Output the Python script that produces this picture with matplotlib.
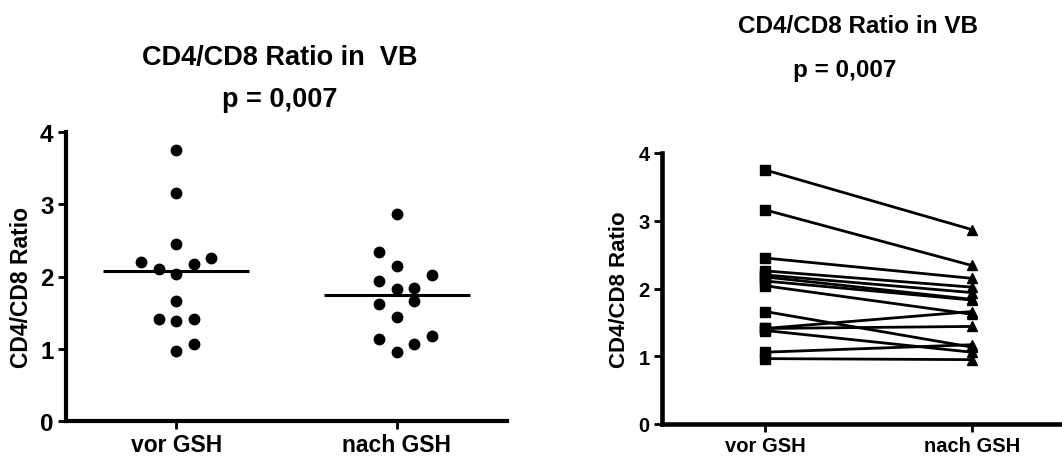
import numpy as np
import matplotlib.pyplot as plt

plt.rcParams['font.family'] = ['Liberation Sans', 'DejaVu Sans']
plt.rcParams['font.weight'] = 'bold'

groups = ['vor GSH', 'nach GSH']
title = 'CD4/CD8 Ratio in  VB'
title_right = 'CD4/CD8 Ratio in VB'
p_text = 'p = 0,007'
ylabel = 'CD4/CD8 Ratio'
yticks = [0, 1, 2, 3, 4]

# paired values (same patient at same index)
vor = [3.75, 3.16, 2.45, 2.26, 2.20, 2.17, 2.11, 2.04, 1.66, 1.41, 1.41, 1.38, 1.06, 0.965]
nach = [2.87, 2.34, 2.15, 2.02, 1.94, 1.84, 1.83, 1.62, 1.135, 1.66, 1.44, 1.06, 1.17, 0.95]

# horizontal slot of each dot in the column scatter
vor_slot = [0, 0, 0, 2, -2, 1, -1, 0, 0, -1, 1, 0, 1, 0]
nach_slot = [0, -1, 0, 2, -1, 1, 0, -1, -1, 1, 0, 1, 2, 0]

W, H = 1062, 460
fig = plt.figure(figsize=(W / 100, H / 100), dpi=100)


def style_axes(ax, spine_w, tick_fs):
    for s in ['top', 'right']:
        ax.spines[s].set_visible(False)
    for s in ['left', 'bottom']:
        ax.spines[s].set_linewidth(spine_w)
    ax.set_ylim(0, 4)
    ax.set_xlim(-0.5, 1.5)
    ax.set_yticks(yticks)
    ax.set_xticks([0, 1])
    ax.set_xticklabels(groups)
    ax.tick_params(axis='both', direction='out', length=6, width=2, labelsize=tick_fs, pad=3)
    for lab in ax.get_xticklabels() + ax.get_yticklabels():
        lab.set_fontweight('bold')


# ---- left: column scatter with median ----
ax1 = fig.add_axes([66 / W, 38 / H, 441 / W, 289 / H])
style_axes(ax1, 3, 16.5)
ax1.tick_params(axis='y', labelsize=17.5)
step = 0.0794
for i, (vals, slots) in enumerate([(vor, vor_slot), (nach, nach_slot)]):
    xs = i + np.array(slots) * step
    ax1.plot(xs, vals, 'o', color='black', ms=7.5, clip_on=False, zorder=3)
    ax1.hlines(np.median(vals), i - 0.33, i + 0.33, color='black', lw=2.2, zorder=2)
ax1.set_ylabel(ylabel, fontsize=16.5, fontweight='bold', va='center')
ax1.yaxis.set_label_coords(-0.10, 0.467)

fig.text(280 / W, 1 - 65 / H, title, ha='center', va='baseline', fontsize=19.5, fontweight='bold')
fig.text(280 / W, 1 - 107 / H, p_text, ha='center', va='baseline', fontsize=19.5, fontweight='bold')

# ---- right: before/after paired lines ----
ax2 = fig.add_axes([662 / W, 35 / H, 413 / W, 271 / H])
style_axes(ax2, 3.3, 14.5)
for v, n in zip(vor, nach):
    ax2.plot([0, 1], [v, n], color='black', lw=2, zorder=2)
ax2.plot(np.zeros(len(vor)), vor, 's', color='black', ms=7, zorder=3)
ax2.plot(np.ones(len(nach)), nach, '^', color='black', ms=7.5, zorder=3)
ax2.set_ylabel(ylabel, fontsize=16, fontweight='bold', va='center')
ax2.yaxis.set_label_coords(-0.102, 0.5)

fig.text(858 / W, 1 - 33 / H, title_right, ha='center', va='baseline', fontsize=17.5, fontweight='bold')
fig.text(845 / W, 1 - 77 / H, p_text, ha='center', va='baseline', fontsize=17.5, fontweight='bold')

fig.savefig('out.png', dpi=100)
